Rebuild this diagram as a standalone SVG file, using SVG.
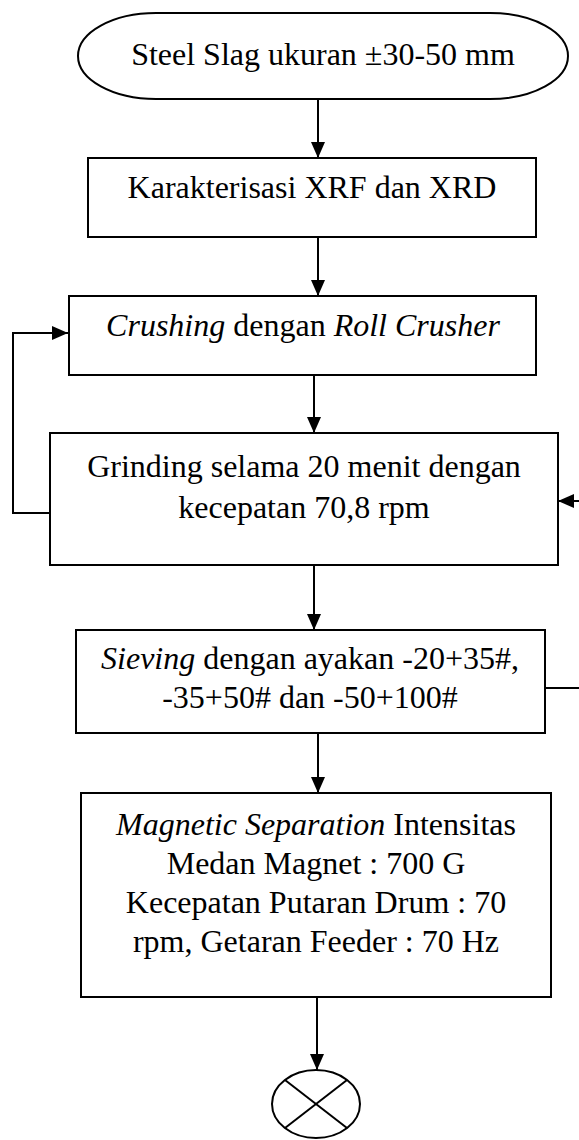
<svg xmlns="http://www.w3.org/2000/svg" width="579" height="1140" viewBox="0 0 579 1140">
<style>
.box{fill:#fff;stroke:#000;stroke-width:2}
.t{font-family:"Liberation Serif","Times New Roman",serif;font-size:32px;fill:#000;text-anchor:middle}
.i{font-style:italic}
.c{fill:none;stroke:#000;stroke-width:2}
</style>
<defs>
<marker id="ah" markerUnits="userSpaceOnUse" markerWidth="16" markerHeight="14" refX="16" refY="7" orient="auto">
<path d="M0,0 L16,7 L0,14 z" fill="#000"/>
</marker>
</defs>
<rect width="579" height="1140" fill="#fff"/>
<g id="connectors">
<line class="c" x1="318" y1="99" x2="318" y2="158" marker-end="url(#ah)"/>
<line class="c" x1="318" y1="237" x2="318" y2="296" marker-end="url(#ah)"/>
<line class="c" x1="314" y1="375" x2="314" y2="433" marker-end="url(#ah)"/>
<line class="c" x1="314" y1="565" x2="314" y2="630" marker-end="url(#ah)"/>
<line class="c" x1="318" y1="733" x2="318" y2="793" marker-end="url(#ah)"/>
<line class="c" x1="317" y1="997" x2="317" y2="1070" marker-end="url(#ah)"/>
<polyline class="c" points="50,513 13,513 13,333 68,333" marker-end="url(#ah)"/>
<line class="c" x1="579" y1="501" x2="558" y2="501" marker-end="url(#ah)"/>
<line class="c" x1="545" y1="688" x2="579" y2="688"/>
</g>
<g id="start">
<rect class="box" x="78" y="13" width="490" height="86" rx="78" ry="43"/>
<text class="t" x="323" y="65">Steel Slag ukuran ±30-50 mm</text>
</g>
<g id="karakterisasi">
<rect class="box" x="88" y="158" width="448" height="79"/>
<text class="t" x="312" y="198">Karakterisasi XRF dan XRD</text>
</g>
<g id="crushing">
<rect class="box" x="69" y="296" width="467" height="79"/>
<text class="t" x="303" y="336"><tspan class="i">Crushing</tspan> dengan <tspan class="i">Roll Crusher</tspan></text>
</g>
<g id="grinding">
<rect class="box" x="50" y="433" width="508" height="132"/>
<text class="t" x="304" y="477">Grinding selama 20 menit dengan</text>
<text class="t" x="304" y="518">kecepatan 70,8 rpm</text>
</g>
<g id="sieving">
<rect class="box" x="76" y="630" width="469" height="103"/>
<text class="t" x="310" y="669"><tspan class="i">Sieving</tspan> dengan ayakan -20+35#,</text>
<text class="t" x="310" y="708">-35+50# dan -50+100#</text>
</g>
<g id="magnetic">
<rect class="box" x="81" y="793" width="470" height="204"/>
<text class="t" x="316" y="835"><tspan class="i">Magnetic Separation</tspan> Intensitas</text>
<text class="t" x="316" y="874">Medan Magnet : 700 G</text>
<text class="t" x="316" y="913">Kecepatan Putaran Drum : 70</text>
<text class="t" x="316" y="952">rpm, Getaran Feeder : 70 Hz</text>
</g>
<g id="end">
<ellipse class="box" cx="316" cy="1104" rx="44" ry="34"/>
<line class="c" x1="285" y1="1080" x2="347" y2="1128"/>
<line class="c" x1="347" y1="1080" x2="285" y2="1128"/>
</g>
</svg>
